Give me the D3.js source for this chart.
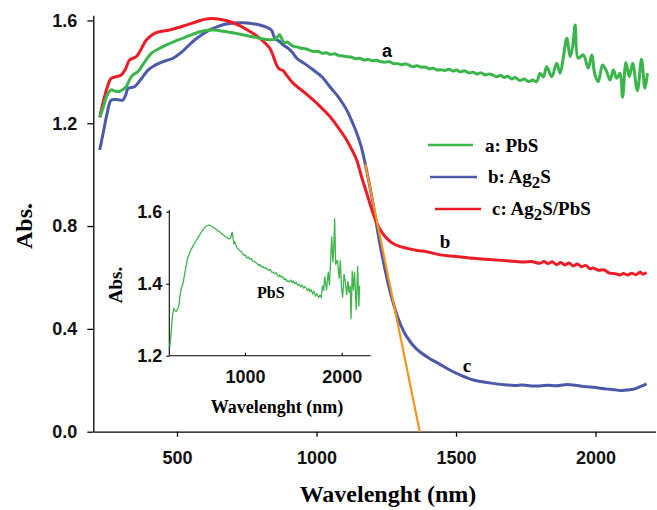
<!DOCTYPE html>
<html><head><meta charset="utf-8">
<script src="https://cdn.jsdelivr.net/npm/d3@7"></script>
<style>body{margin:0;background:#fff}svg{display:block}</style>
</head><body>
<svg id="c" width="657" height="510"></svg>
<script>
// ---- data (wavelength nm, absorbance) ----
const pbs = [[223,1.223],[235,1.26],[250,1.31],[264,1.33],[278,1.325],[290,1.323],[305,1.33],[318,1.342],[330,1.37],[342,1.388],[360,1.401],[385,1.44],[408,1.472],[435,1.49],[462,1.505],[490,1.518],[521,1.531],[555,1.546],[593,1.559],[629,1.563],[677,1.556],[737,1.544],[796,1.531],[830,1.525],[850,1.526],[862,1.538],[868,1.544],[875,1.53],[885,1.512],[895,1.516],[905,1.508],[916,1.500],[930,1.497],[945,1.492],[960,1.490],[975,1.484],[989,1.479],[1005,1.480],[1020,1.472],[1035,1.474],[1050,1.468],[1065,1.470],[1080,1.463],[1095,1.462],[1108,1.459],[1125,1.457],[1140,1.451],[1155,1.453],[1170,1.446],[1185,1.448],[1200,1.443],[1215,1.445],[1228,1.440],[1245,1.437],[1260,1.440],[1275,1.432],[1290,1.432],[1305,1.428],[1320,1.431],[1335,1.424],[1347,1.420],[1360,1.424],[1375,1.418],[1390,1.419],[1405,1.412],[1420,1.414],[1431,1.407],[1445,1.408],[1460,1.405],[1475,1.410],[1490,1.403],[1502,1.407],[1515,1.400],[1530,1.404],[1545,1.396],[1562,1.398],[1575,1.392],[1590,1.396],[1605,1.388],[1620,1.392],[1635,1.386],[1646,1.381],[1660,1.387],[1672,1.378],[1685,1.383],[1700,1.372],[1712,1.378],[1729,1.366],[1745,1.372],[1760,1.362],[1775,1.368],[1789,1.362],[1801,1.395],[1813,1.38],[1825,1.42],[1843,1.381],[1861,1.433],[1873,1.395],[1885,1.459],[1897,1.531],[1909,1.459],[1918,1.498],[1927,1.582],[1938,1.453],[1956,1.466],[1974,1.414],[1986,1.466],[1998,1.388],[2010,1.362],[2025,1.427],[2040,1.401],[2052,1.368],[2064,1.407],[2076,1.375],[2088,1.395],[2097,1.301],[2109,1.436],[2121,1.381],[2133,1.433],[2150,1.327],[2165,1.449],[2177,1.336],[2186,1.395]];

const ag2s = [[223,1.096],[235,1.16],[250,1.24],[264,1.29],[285,1.292],[306,1.29],[316,1.31],[325,1.336],[348,1.342],[370,1.37],[396,1.407],[420,1.425],[450,1.44],[486,1.453],[520,1.48],[557,1.518],[590,1.545],[617,1.563],[650,1.578],[676,1.586],[737,1.591],[796,1.582],[838,1.563],[845,1.545],[852,1.528],[865,1.52],[880,1.505],[900,1.49],[916,1.472],[929,1.453],[960,1.43],[989,1.407],[1020,1.38],[1048,1.342],[1080,1.30],[1108,1.252],[1130,1.20],[1144,1.162],[1160,1.11],[1174,1.045],[1190,0.96],[1204,0.88],[1216,0.80],[1228,0.725],[1240,0.66],[1258,0.57],[1275,0.50],[1300,0.42],[1323,0.37],[1360,0.32],[1395,0.292],[1443,0.262],[1478,0.240],[1520,0.218],[1562,0.201],[1620,0.19],[1682,0.182],[1710,0.180],[1740,0.182],[1770,0.178],[1801,0.178],[1830,0.181],[1860,0.179],[1890,0.183],[1920,0.182],[1945,0.178],[1970,0.175],[1995,0.173],[2016,0.169],[2050,0.165],[2070,0.163],[2088,0.160],[2110,0.162],[2135,0.165],[2160,0.175],[2183,0.186]];

const ag2sPbs = [[223,1.223],[235,1.28],[250,1.34],[264,1.375],[285,1.382],[300,1.388],[315,1.41],[330,1.446],[354,1.459],[370,1.485],[390,1.524],[420,1.55],[474,1.563],[533,1.582],[570,1.595],[605,1.606],[653,1.605],[701,1.591],[748,1.566],[796,1.531],[832,1.492],[842,1.47],[850,1.446],[860,1.42],[868,1.41],[880,1.405],[892,1.388],[916,1.356],[950,1.326],[989,1.29],[1020,1.258],[1048,1.226],[1080,1.18],[1108,1.135],[1130,1.09],[1144,1.057],[1162,0.99],[1180,0.928],[1198,0.865],[1216,0.811],[1235,0.775],[1252,0.752],[1270,0.735],[1295,0.722],[1323,0.714],[1360,0.705],[1395,0.70],[1443,0.688],[1500,0.682],[1562,0.675],[1620,0.670],[1682,0.665],[1740,0.66],[1770,0.662],[1801,0.655],[1815,0.662],[1830,0.654],[1845,0.661],[1860,0.650],[1875,0.658],[1890,0.649],[1905,0.656],[1920,0.645],[1935,0.652],[1950,0.642],[1965,0.647],[1980,0.634],[1992,0.637],[2010,0.628],[2030,0.630],[2050,0.617],[2070,0.615],[2088,0.61],[2100,0.615],[2115,0.610],[2130,0.616],[2145,0.611],[2160,0.62],[2170,0.613],[2183,0.619]];

const tangent = [[1175,1.04],[1370,0.0]];

const xTicks = [500,1000,1500,2000];
const yTicks = [0,0.4,0.8,1.2,1.6];
const insetXTicks = [1000,2000];
const insetYTicks = [1.2,1.4,1.6];
const legendLabels = [["a: PbS"],["b: Ag","2","S"],["c: Ag","2","S/PbS"]];
const curveLabels = ["a","b","c"];

// ---- drawing ----
const svg = d3.select("#c");
const GREEN="#39b54a", BLUE="#4b59a8", RED="#ed1c24", ORANGE="#f7941d";
const sans="'Liberation Sans', Arial, sans-serif", serif="'Liberation Serif','Times New Roman', serif";

const x = d3.scaleLinear().domain([200,2215]).range([93.3,655.5]);
const y = d3.scaleLinear().domain([0,1.62]).range([431.7,15.3]);

const line = d3.line().x(d=>x(d[0])).y(d=>y(d[1])).curve(d3.curveCatmullRom.alpha(0.5));

const gx = svg.append("g").attr("transform","translate(0,431.7)")
  .call(d3.axisBottom(x).tickValues(xTicks).tickSizeInner(5).tickSizeOuter(0).tickPadding(15).tickFormat(d3.format("d")));
const gy = svg.append("g").attr("transform","translate(93.3,0)")
  .call(d3.axisLeft(y).tickValues(yTicks).tickSizeInner(6).tickSizeOuter(0).tickPadding(10).tickFormat(d3.format(".1f")));
[gx,gy].forEach(g=>{
  g.selectAll("path,line").attr("stroke","#000").attr("stroke-width",1.3);
  g.selectAll("text").attr("font-family",sans).attr("font-weight","bold").attr("font-size",18).attr("fill","#111");
});

svg.append("text").attr("x",388).attr("y",502).attr("text-anchor","middle")
  .attr("font-family",serif).attr("font-weight","bold").attr("font-size",24).text("Wavelenght (nm)");
svg.append("text").attr("transform","translate(32,226) rotate(-90)").attr("text-anchor","middle")
  .attr("font-family",serif).attr("font-weight","bold").attr("font-size",24).text("Abs.");

// inset
const ix = d3.scaleLinear().domain([200,2300]).range([167.6,370.7]);
const iy = d3.scaleLinear().domain([1.2,1.6]).range([355.7,211.7]);
const gix = svg.append("g").attr("transform","translate(0,355.7)")
  .call(d3.axisBottom(ix).tickValues(insetXTicks).tickSizeInner(-3).tickSizeOuter(0).tickPadding(15).tickFormat(d3.format("d")));
const giy = svg.append("g").attr("transform","translate(169.3,0)")
  .call(d3.axisLeft(iy).tickValues(insetYTicks).tickSizeInner(3).tickSizeOuter(0).tickPadding(4).tickFormat(d3.format(".1f")));
[gix,giy].forEach(g=>{
  g.selectAll("path,line").attr("stroke","#000").attr("stroke-width",1.1);
  g.selectAll("text").attr("font-family",sans).attr("font-weight","bold").attr("font-size",18).attr("fill","#111");
});
giy.select("path.domain").attr("d","M0,355.7V210");
gix.select("path.domain").attr("d","M169.3,0H370.7");
const iline = d3.line().x(d=>ix(d[0])).y(d=>iy(d[1]));
svg.append("path").datum(pbs).attr("d",iline).attr("fill","none").attr("stroke","#3fb54c").attr("stroke-width",1.3);
svg.append("text").attr("x",277).attr("y",413).attr("text-anchor","middle")
  .attr("font-family",serif).attr("font-weight","bold").attr("font-size",18).text("Wavelenght (nm)");
svg.append("text").attr("transform","translate(122,285) rotate(-90)").attr("text-anchor","middle")
  .attr("font-family",serif).attr("font-weight","bold").attr("font-size",19).text("Abs.");
svg.append("text").attr("x",257).attr("y",298)
  .attr("font-family",serif).attr("font-weight","bold").attr("font-size",16).text("PbS");

// main curves
svg.append("path").datum(ag2s).attr("d",line).attr("fill","none").attr("stroke",BLUE).attr("stroke-width",3);
svg.append("path").datum(ag2sPbs).attr("d",line).attr("fill","none").attr("stroke",RED).attr("stroke-width",3);
svg.append("path").datum(pbs).attr("d",line).attr("fill","none").attr("stroke",GREEN).attr("stroke-width",3);
svg.append("path").datum(tangent).attr("d",d3.line().x(d=>x(d[0])).y(d=>y(d[1]))).attr("fill","none").attr("stroke",ORANGE).attr("stroke-width",2.2);

// curve labels
svg.append("text").attr("x",387).attr("y",57).attr("text-anchor","middle").attr("font-family",sans).attr("font-weight","bold").attr("font-size",18).text(curveLabels[0]);
svg.append("text").attr("x",445).attr("y",248).attr("text-anchor","middle").attr("font-family",serif).attr("font-weight","bold").attr("font-size",19).text(curveLabels[1]);
svg.append("text").attr("x",467).attr("y",372).attr("text-anchor","middle").attr("font-family",serif).attr("font-weight","bold").attr("font-size",19).text(curveLabels[2]);

// legend
const leg = [
  {c:GREEN,x1:428,x2:473,ly:145,tx:485,ty:152},
  {c:BLUE,x1:430,x2:477,ly:177,tx:488,ty:183},
  {c:RED,x1:435,x2:481,ly:209,tx:492,ty:215}
];
leg.forEach((l,i)=>{
  svg.append("line").attr("x1",l.x1).attr("x2",l.x2).attr("y1",l.ly).attr("y2",l.ly).attr("stroke",l.c).attr("stroke-width",2.6);
  const t = svg.append("text").attr("x",l.tx).attr("y",l.ty).attr("font-family",serif).attr("font-weight","bold").attr("font-size",19);
  const parts = legendLabels[i];
  t.append("tspan").text(parts[0]);
  if(parts.length>1){
    t.append("tspan").attr("dy",5).attr("font-size",17).text(parts[1]);
    t.append("tspan").attr("dy",-5).text(parts[2]);
  }
});
</script>
</body></html>
